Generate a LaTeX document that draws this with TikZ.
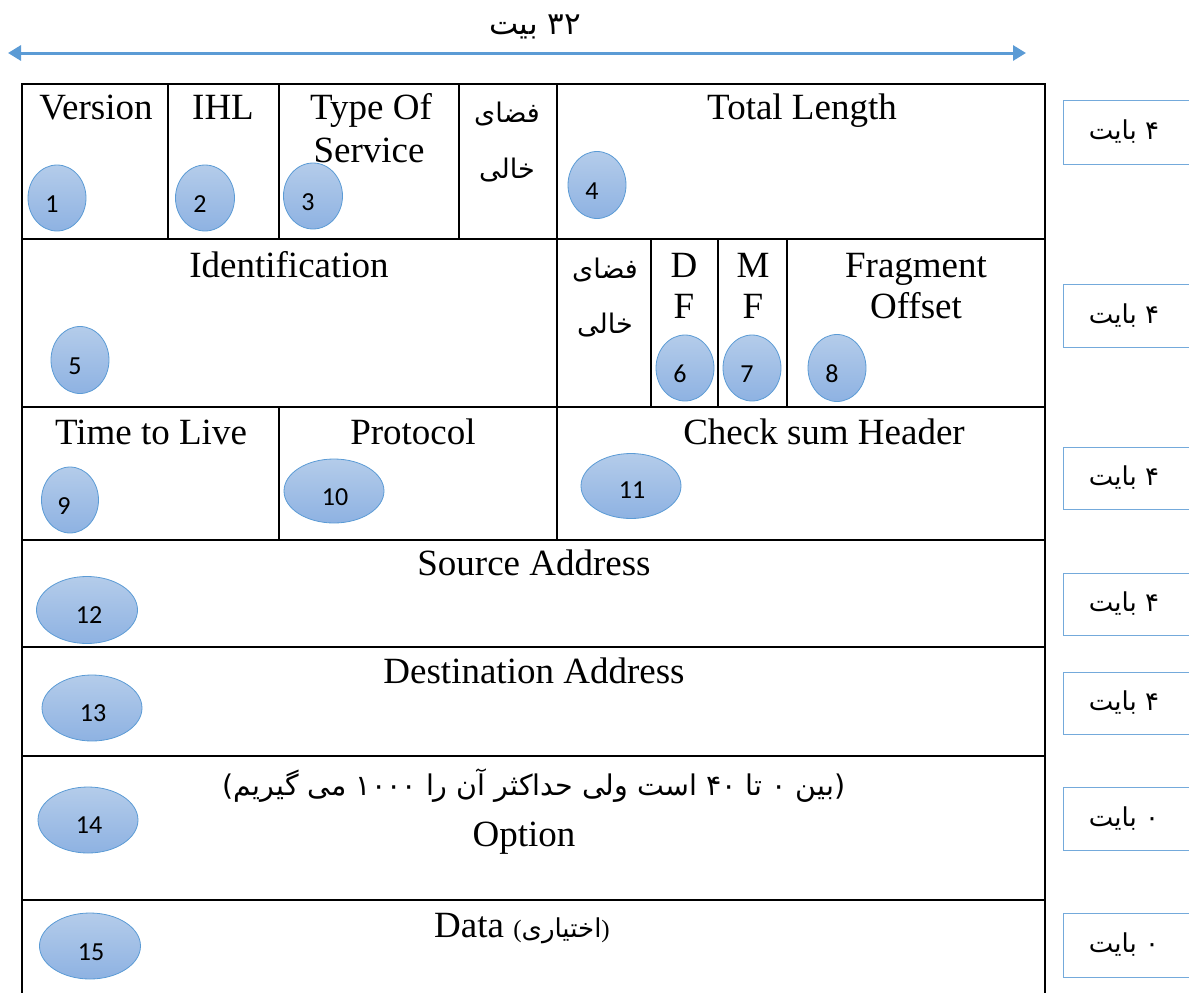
\documentclass[tikz,border=0pt]{standalone}
\usepackage{fontspec}
\setmainfont{Liberation Serif}
\newfontfamily\fafont[Script=Arabic]{DejaVu Sans}
\newfontfamily\numfont{Carlito}
\TeXXeTstate=1
\usetikzlibrary{arrows.meta,shapes.geometric}

\definecolor{accent}{HTML}{5B9BD5}
\definecolor{ovtop}{HTML}{B4CCEA}
\definecolor{ovbot}{HTML}{8EB2E2}

\tikzset{
  grid/.style={line width=1.6pt, black, line cap=rect},
  lbl/.style={font=\fontsize{37}{40}\selectfont, anchor=base, inner sep=0pt},
  fa/.style={font=\fafont\fontsize{27}{30}\selectfont, anchor=base, inner sep=0pt},
  badge/.style={ellipse, draw=accent, line width=0.8pt, top color=ovtop, bottom color=ovbot, inner sep=0pt},
  num/.style={font=\numfont\fontsize{26}{30}\selectfont, inner sep=0pt},
  sizebox/.style={draw=accent!85, line width=1.2pt, fill=white, inner sep=0pt},
  sizetxt/.style={font=\fafont\fontsize{26}{30}\selectfont, inner sep=0pt},
}

% numbered oval: id, x, y, width, height, dx, dy of the number
\newcommand\mkbadge[7]{%
  \node[badge, minimum width=#4pt, minimum height=#5pt] (b#1) at (#2,#3) {};
  \node[num] (n#1) at ([shift={(#6,#7)}]b#1.center) {#1};
}

\begin{document}
\begin{tikzpicture}[x=1pt, y=-1pt]
\useasboundingbox (0,0) rectangle (1189,993);
\clip (0,0) rectangle (1189,993);

% width arrow
\coordinate (arrL) at (8,53);
\coordinate (arrR) at (1026,53);
\draw[accent, line width=3pt, {Triangle[length=13pt,width=15pt]}-{Triangle[length=13pt,width=15pt]}] (arrL) -- (arrR);
\node[fa, font=\fafont\fontsize{31}{34}\selectfont, anchor=center] (bits) at (535,27) {\beginR\beginL ۳۲\endL{} بیت\endR};

% header grid
\draw[grid] (22,993) -- (22,84) -- (1045,84) -- (1045,993);
\foreach \yy in {239,407,540,647,756,900}
  \draw[grid] (22,\yy) -- (1045,\yy);
\foreach \xx in {168,279,459,557}
  \draw[grid] (\xx,84) -- (\xx,239);
\foreach \xx in {557,651,718,787}
  \draw[grid] (\xx,239) -- (\xx,407);
\foreach \xx in {279,557}
  \draw[grid] (\xx,407) -- (\xx,540);

% row 1
\node[lbl] (version) at (96,119) {Version};
\node[lbl] (ihl) at (223,119) {IHL};
\node[lbl] (tos1) at (371,119) {Type Of};
\node[lbl] (tos2) at (369,162) {Service};
\node[fa] (gap1a) at (507,122) {\beginR فضای\endR};
\node[fa] (gap1b) at (507,178) {\beginR خالی\endR};
\node[lbl] (total) at (802,119) {Total Length};

% row 2
\node[lbl] (ident) at (289,277) {Identification};
\node[fa] (gap2a) at (605,278) {\beginR فضای\endR};
\node[fa] (gap2b) at (605,333) {\beginR خالی\endR};
\node[lbl] (df1) at (684,277) {D};
\node[lbl] (df2) at (684,318) {F};
\node[lbl] (mf1) at (753,277) {M};
\node[lbl] (mf2) at (753,318) {F};
\node[lbl] (frag1) at (916,277) {Fragment};
\node[lbl] (frag2) at (916,318) {Offset};

% row 3
\node[lbl] (ttl) at (151,444) {Time to Live};
\node[lbl] (proto) at (413,444) {Protocol};
\node[lbl] (csum) at (824,444) {Check sum Header};

% rows 4-7
\node[lbl] (src) at (534,575) {Source Address};
\node[lbl] (dst) at (534,683) {Destination Address};
\node[fa, font=\fafont\fontsize{28.5}{32}\selectfont] (optnote) at (534,795) {\beginR(بین ۰ تا \beginL ۴۰\endL{} است ولی حداکثر آن را \beginL ۱۰۰۰\endL{} می گیریم)\endR};
\node[lbl] (opt) at (524,846) {Option};
\node[lbl] (data) at (522,937) {Data {\fontsize{25}{28}\selectfont(\beginR{\fafont\fontsize{26}{28}\selectfont اختیاری}\endR)}};

% numbered ovals
\mkbadge{1}{57}{198}{58}{66}{-5}{6}
\mkbadge{2}{205}{198}{59}{66}{-5}{6}
\mkbadge{3}{313}{196}{59}{66}{-5}{6}
\mkbadge{4}{597}{185}{58}{67}{-5}{6}
\mkbadge{5}{80}{360}{58}{67}{-5}{6}
\mkbadge{6}{685}{368}{58}{66}{-5}{6}
\mkbadge{7}{752}{368}{58}{66}{-5}{6}
\mkbadge{8}{837}{368}{58}{67}{-5}{6}
\mkbadge{9}{70}{500}{57}{66}{-6}{6}
\mkbadge{10}{334}{491}{100}{64}{1}{6}
\mkbadge{11}{631}{486}{100}{65}{1}{4}
\mkbadge{12}{87}{610}{101}{67}{2}{5}
\mkbadge{13}{92}{708}{100}{66}{1}{5}
\mkbadge{14}{88}{820}{100}{66}{1}{5}
\mkbadge{15}{90}{946}{101}{66}{1}{6}

% size boxes on the right
\foreach \i/\top/\bot/\d in {1/100/164/۴, 2/284/347/۴, 3/447/509/۴, 4/573/635/۴, 5/672/734/۴, 6/787/850/۰, 7/913/977/۰} {
  \node[sizebox, anchor=north west, minimum width=150pt, minimum height={\bot-\top}] (sb\i) at (1063,\top) {};
  \node[sizetxt] (st\i) at (1124,{(\top+\bot)/2}) {\beginR\d{} بایت\endR};
}
\end{tikzpicture}
\end{document}
